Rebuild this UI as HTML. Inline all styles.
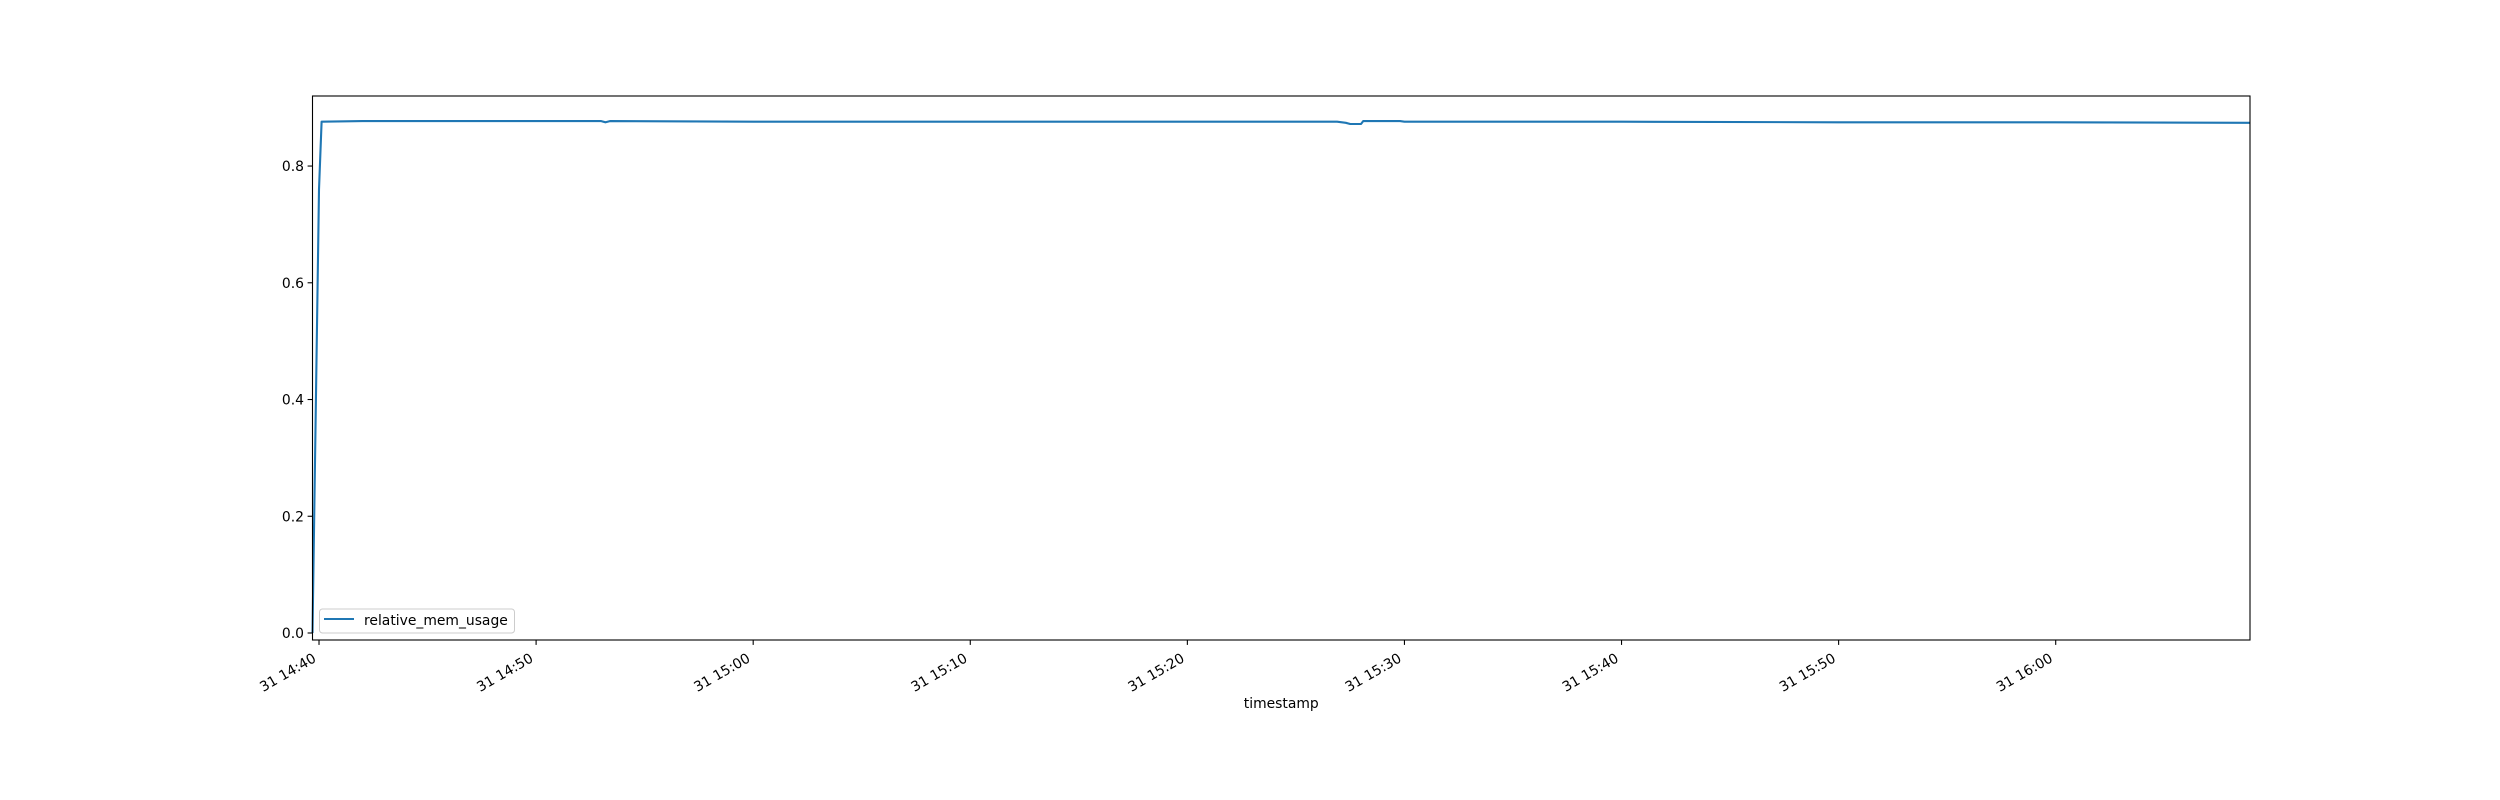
<!DOCTYPE html>
<html><head><meta charset="utf-8"><style>
body{margin:0;background:#fff}
svg{display:block;font-family:"DejaVu Sans","Liberation Sans",sans-serif}
</style></head><body>
<svg id="chart" width="2500" height="800" viewBox="0 0 2500 800" xmlns="http://www.w3.org/2000/svg">
<rect width="2500" height="800" fill="#fff"/>
<g id="plot"></g>
</svg>
<script>
// minutes since 14:40 and relative memory usage
const times = [-0.3,0,0.12,2,5,10,13,13.2,13.4,20,30,40,46.9,47.3,47.5,48.0,48.1,49.8,50,60,70,80,88.95];
const values = [0.0,0.76,0.876,0.877,0.877,0.877,0.877,0.875,0.877,0.876,0.876,0.876,0.876,0.874,0.872,0.872,0.877,0.877,0.876,0.876,0.875,0.875,0.874];
const yTicks = [0.0,0.2,0.4,0.6,0.8];
const xTickMins = [0,10,20,30,40,50,60,70,80];
const xTickLabels = ["31 14:40","31 14:50","31 15:00","31 15:10","31 15:20","31 15:30","31 15:40","31 15:50","31 16:00"];

const L=312.5,R=2250,T=96,B=640;
const xMin=-0.3,xMax=88.95,yMin=-0.0120,yMax=0.92;
const sx=v=>L+(v-xMin)/(xMax-xMin)*(R-L);
const sy=v=>B-(v-yMin)/(yMax-yMin)*(B-T);
const NS="http://www.w3.org/2000/svg";
const g=document.getElementById('plot');
function mk(tag,attrs,parent){const e=document.createElementNS(NS,tag);for(const k in attrs)e.setAttribute(k,attrs[k]);(parent||g).appendChild(e);return e;}

const line=mk('polyline',{points:times.map((t,i)=>sx(t).toFixed(1)+','+sy(values[i]).toFixed(1)).join(' '),fill:'none',stroke:'#1f77b4','stroke-width':2.1,'stroke-linejoin':'round'});



const frame=mk('rect',{x:L,y:T,width:R-L,height:B-T,fill:'none',stroke:'#000','stroke-width':1.1});



yTicks.forEach(v=>{
  const y=sy(v);
  const tk=mk('line',{x1:L-4.9,x2:L,y1:y,y2:y,stroke:'#000','stroke-width':1.1});
  
  
  const tx=mk('text',{x:L-8.5,y:y+5,'text-anchor':'end','font-size':13.9,fill:'#000'});
  tx.textContent=v.toFixed(1);
  
  
});
xTickMins.forEach((m,i)=>{
  const x=sx(m);
  const tk=mk('line',{x1:x,x2:x,y1:B,y2:B+4.9,stroke:'#000','stroke-width':1.1});
  
  
  const tx=mk('text',{x:0,y:0,'text-anchor':'end','font-size':13.9,fill:'#000',transform:`translate(${x-2},${B+21}) rotate(-30)`});
  tx.textContent=xTickLabels[i];
  
  
});
const xl=mk('text',{x:(L+R)/2,y:708,'text-anchor':'middle','font-size':13.9,fill:'#000'});
xl.textContent='timestamp';



const lg=mk('g',{});


mk('rect',{x:319.5,y:609,width:195,height:24,rx:3,fill:'#fff','fill-opacity':0.8,stroke:'#ccc','stroke-width':1},lg);
mk('line',{x1:324,x2:354,y1:619,y2:619,stroke:'#1f77b4','stroke-width':2.1},lg);
const lt=mk('text',{x:364,y:625,'font-size':13.9,fill:'#000'},lg);
lt.textContent='relative_mem_usage';


</script>
</body></html>
